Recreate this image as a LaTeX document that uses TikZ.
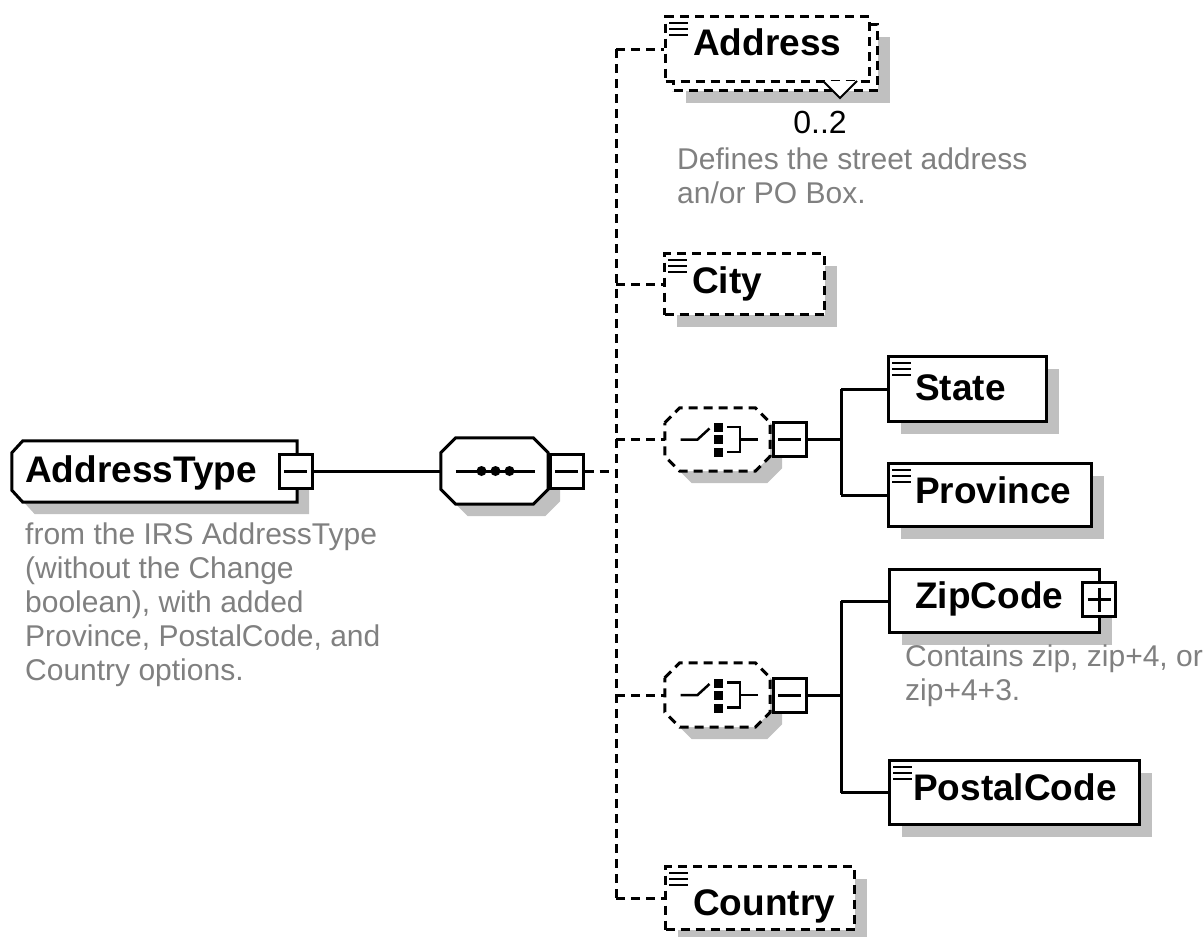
\documentclass[tikz,border=0pt]{standalone}
\usepackage{fontspec}
\setmainfont{Liberation Sans}
\usetikzlibrary{shadows}
\definecolor{shadowgray}{RGB}{192,192,192}
\definecolor{notegray}{RGB}{128,128,128}
\tikzset{
	box/.style={draw,line width=3pt,fill=white,inner sep=0pt,anchor=north west},
	shade/.style={drop shadow={shadow xshift=12pt,shadow yshift=-12pt,fill=shadowgray,opacity=1}},
	opt/.style={dash pattern=on 9pt off 6pt},
	slot/.style={inner sep=0pt},
	lbl/.style={anchor=base west,inner sep=0pt,font=\fontsize{37}{40}\selectfont\bfseries},
	note/.style={anchor=north west,align=left,inner sep=0pt,text=notegray,font=\fontsize{30}{34}\selectfont},
	tog/.style={draw,line width=3pt,fill=white,inner sep=0pt,minimum width=33pt,minimum height=34pt},
	minusbox/.style={tog,path picture={\draw[line width=3pt] ([xshift=5pt]path picture bounding box.west) -- ([xshift=-5pt]path picture bounding box.east);}},
	plusbox/.style={tog,path picture={\draw[line width=3pt] ([xshift=5pt]path picture bounding box.west) -- ([xshift=-5pt]path picture bounding box.east) ([yshift=-5pt]path picture bounding box.north) -- ([yshift=5pt]path picture bounding box.south);}},
	solidline/.style={line width=3pt},
	dashline/.style={line width=3pt,dash pattern=on 9pt off 6pt}
}
\newcommand{\docicon}[1]{\draw[line width=2.5pt] ([xshift=5pt,yshift=-8pt]#1.north west) -- ++(19,0) ++(-19,6) -- ++(19,0) ++(-19,6) -- ++(19,0);}
\newcommand{\octo}[2][]{\draw[line width=3pt,fill=white,shade,#1] ([yshift=-15pt]#2.north west) -- ([xshift=15pt]#2.north west) -- ([xshift=-15pt]#2.north east) -- ([yshift=-15pt]#2.north east) -- ([yshift=15pt]#2.south east) -- ([xshift=-15pt]#2.south east) -- ([xshift=15pt]#2.south west) -- ([yshift=15pt]#2.south west) -- cycle;}
\newcommand{\choiceicon}[1]{
	\begin{scope}[shift={(#1.center)}]
		\draw[line width=2.5pt] (-37,0) -- (-20,0) -- (-8,-11);
		\fill (-3.5,-16.5) rectangle (5.5,-7.5);
		\fill (-3.5,-4.5) rectangle (5.5,4.5);
		\fill (-3.5,8.5) rectangle (5.5,17.5);
		\draw[line width=2.5pt] (9.5,-12.5) -- (22.5,-12.5) -- (22.5,12.5) -- (9.5,12.5) (22.5,0) -- (40.5,0);
	\end{scope}}
\begin{document}
\begin{tikzpicture}[line cap=butt,line join=miter,x=1pt,y=-1pt]
	\path[use as bounding box,fill=white] (0,0) rectangle (1203,937);
	% root type
	\node[slot,minimum width=285pt,minimum height=61pt] (atype) at (154.5,471.5) {};
	\draw[line width=3pt,fill=white,shade] ([yshift=-12pt]atype.north west) -- ([xshift=11pt]atype.north west) -- (atype.north east) -- (atype.south east) -- ([xshift=11pt]atype.south west) -- ([yshift=12pt]atype.south west) -- cycle;
	\node[lbl] (atype-t) at (25,482) {AddressType};
	\node[minusbox] (atype-m) at (295.5,471) {};
	\node[note] (atype-n) at (25,523) {from the IRS AddressType\\(without the Change\\boolean), with added\\Province, PostalCode, and\\Country options.};
	% sequence
	\node[slot,minimum width=107pt,minimum height=66pt] (seq) at (494.5,471) {};
	\octo{seq}
	\draw[solidline] ([xshift=15pt]seq.west) -- ([xshift=-13pt]seq.east);
	\foreach \dx in {-13,1,15}
		\fill ([xshift=\dx pt]seq.center) circle (5pt);
	\node[minusbox] (seq-m) at (566.5,471) {};
	\draw[solidline] (atype-m.east) -- (seq.west);
	% children
	\node[box,opt,shade,minimum width=204pt,minimum height=66pt] (addr-b) at (672,23) {};
	\node[box,opt,minimum width=204pt,minimum height=65pt] (addr) at (664,15) {};
	\draw[line width=2pt,fill=white] (823,81) -- (840,98) -- (857,81);
	\docicon{addr}
	\node[lbl] (addr-t) at (693,55) {Address};
	\node[anchor=base,inner sep=0pt,font=\fontsize{32}{34}\selectfont] (addr-o) at (820,133) {0..2};
	\node[note] (addr-n) at (677,148) {Defines the street address\\an/or PO Box.};
	\node[box,opt,shade,minimum width=160pt,minimum height=61pt] (city) at (663,252) {};
	\docicon{city}
	\node[lbl] (city-t) at (692,293) {City};
	\node[slot,minimum width=105pt,minimum height=63pt] (ch1) at (717.5,439.5) {};
	\octo[opt]{ch1}
	\choiceicon{ch1}
	\node[minusbox] (ch1-m) at (789.5,439.5) {};
	\node[slot,minimum width=105pt,minimum height=64pt] (ch2) at (717.5,695) {};
	\octo[opt]{ch2}
	\choiceicon{ch2}
	\node[minusbox] (ch2-m) at (789.5,695) {};
	\node[box,opt,shade,minimum width=189pt,minimum height=63pt] (country) at (664,865) {};
	\docicon{country}
	\node[lbl] (country-t) at (693,915) {Country};
	\coordinate (bus) at (616,471);
	\draw[dashline] (seq-m.east) -- (bus);
	\draw[dashline] (bus |- addr.west) -- (bus |- country.west);
	\foreach \n in {addr,city,ch1,ch2,country}
		\draw[dashline] (bus |- \n.west) -- (\n.west);
	% first choice
	\node[box,shade,minimum width=158pt,minimum height=65pt] (state) at (887,355) {};
	\docicon{state}
	\node[lbl] (state-t) at (915,400) {State};
	\node[box,shade,minimum width=203pt,minimum height=63pt] (prov) at (887,462) {};
	\docicon{prov}
	\node[lbl] (prov-t) at (915,503) {Province};
	\coordinate (j1) at (841,439.5);
	\draw[solidline] (ch1-m.east) -- (j1);
	\draw[solidline] (j1 |- state.west) -- (j1 |- prov.west);
	\draw[solidline] (j1 |- state.west) -- (state.west);
	\draw[solidline] (j1 |- prov.west) -- (prov.west);
	% second choice
	\node[box,shade,minimum width=210pt,minimum height=63pt] (zip) at (888,568) {};
	\node[lbl] (zip-t) at (915,608) {ZipCode};
	\node[plusbox] (zip-p) at (1099,599.5) {};
	\node[note] (zip-n) at (905,645) {Contains zip, zip+4, or\\zip+4+3.};
	\node[box,shade,minimum width=250pt,minimum height=64pt] (postal) at (888,759) {};
	\docicon{postal}
	\node[lbl] (postal-t) at (913,800) {PostalCode};
	\coordinate (j2) at (841,695);
	\draw[solidline] (ch2-m.east) -- (j2);
	\draw[solidline] (j2 |- zip.west) -- (j2 |- postal.west);
	\draw[solidline] (j2 |- zip.west) -- (zip.west);
	\draw[solidline] (j2 |- postal.west) -- (postal.west);
\end{tikzpicture}
\end{document}
